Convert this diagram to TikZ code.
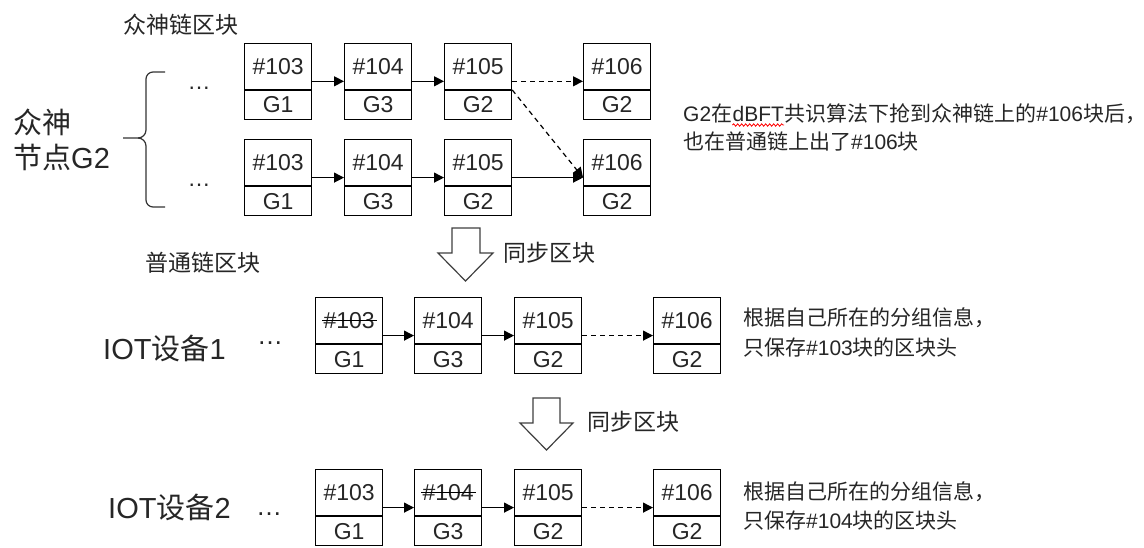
\documentclass[tikz,border=0pt]{standalone}
\usepackage{fontspec}
\setmainfont{Liberation Sans}
\newfontfamily\cjk{Noto Sans CJK SC}
\usetikzlibrary{arrows.meta,decorations.pathmorphing}
\newcommand\zh[1]{{\cjk #1}}
\newcommand\chainbox[5]{%
  \node[blocktop] (#1) at (#2,#3) {#4};
  \node[blockbot] (#1g) at (#1.south) {#5};}
\begin{document}
\begin{tikzpicture}[x=1pt,y=-1pt,
  txt/.style={text=black!85, inner sep=0pt},
  small/.style={txt, font=\fontsize{21}{25}\selectfont},
  label/.style={txt, font=\fontsize{23}{27}\selectfont},
  big/.style={txt, font=\fontsize{29}{34}\selectfont},
  boxfont/.style={font=\fontsize{23}{27}\selectfont},
  blocktop/.style={draw, line width=1.2pt, minimum width=67pt, minimum height=46pt,
     inner sep=0pt, boxfont, text=black!85, anchor=north west},
  blockbot/.style={draw, line width=1.2pt, minimum width=67pt, minimum height=29pt,
     inner sep=0pt, boxfont, text=black!85, anchor=north},
  link/.style={line width=1.2pt, -{Triangle[length=10pt,width=10pt]}},
  dlink/.style={link, dash pattern=on 5pt off 4pt},
  strike/.style={line width=1.3pt},
  fatarrow/.style={draw=black!75, line width=1.2pt, fill=white, line join=miter}
]
\useasboundingbox (0,0) rectangle (1144,547);
\fill[white] (0,0) rectangle (1144,547);

% titles
\node[label] (t1) at (181,25) {\zh{众神链区块}};
\node[label] (t2) at (203,263) {\zh{普通链区块}};

% left labels
\node[big, anchor=west] (g2a) at (13,122) {\zh{众神}};
\node[big, anchor=west] (g2b) at (13,157) {\zh{节点}G2};
\node[big, anchor=west] (iot1) at (103,348) {IOT\zh{设备}1};
\node[big, anchor=west] (iot2) at (108,507) {IOT\zh{设备}2};

% brace
\draw[line width=1.2pt, black!80] (165,72) -- (153,72) to[out=180,in=90] (146,79) -- (146,130)
  to[out=-90,in=0] (138,138) -- (123,138);
\draw[line width=1.2pt, black!80] (138,138) to[out=0,in=90] (146,146) -- (146,200)
  to[out=-90,in=180] (153,207) -- (165,207);

% dots
\node[txt, boxfont] (d1) at (199,88) {…};
\node[txt, boxfont] (d2) at (199,185) {…};
\node[txt, font=\fontsize{26}{30}\selectfont] (d3) at (270,343) {…};
\node[txt, font=\fontsize{26}{30}\selectfont] (d4) at (269,514) {…};

% row 1
\chainbox{a1}{244}{42.7}{\#103}{G1}
\chainbox{a2}{344}{42.7}{\#104}{G3}
\chainbox{a3}{444}{42.7}{\#105}{G2}
\chainbox{a4}{583}{42.7}{\#106}{G2}
% row 2
\chainbox{b1}{244}{139}{\#103}{G1}
\chainbox{b2}{344}{139}{\#104}{G3}
\chainbox{b3}{444}{139}{\#105}{G2}
\chainbox{b4}{583}{139}{\#106}{G2}
% row 3
\chainbox{c1}{315}{297}{}{G1}
\chainbox{c2}{414}{297}{\#104}{G3}
\chainbox{c3}{514}{297}{\#105}{G2}
\chainbox{c4}{653}{297}{\#106}{G2}
\node[txt, boxfont] (c1t) at (c1.center) {\#103};
\draw[strike] ([xshift=-1pt]c1t.west) -- ([xshift=2pt]c1t.east);
% row 4
\chainbox{e1}{315}{469}{\#103}{G1}
\chainbox{e2}{414}{469}{}{G3}
\chainbox{e3}{514}{469}{\#105}{G2}
\chainbox{e4}{653}{469}{\#106}{G2}
\node[txt, boxfont] (e2t) at (e2.center) {\#104};
\draw[strike] ([xshift=-1pt]e2t.west) -- ([xshift=2pt]e2t.east);

% connectors
\draw[link] ([yshift=-15pt]a1.east) -- ([yshift=-15pt]a2.west);
\draw[link] ([yshift=-15pt]a2.east) -- ([yshift=-15pt]a3.west);
\draw[dlink] ([yshift=-15pt]a3.east) -- ([yshift=-15pt]a4.west);
\draw[dlink] (a3.south east) -- ([yshift=-15pt]b4.west);
\draw[link] ([yshift=-15pt]b1.east) -- ([yshift=-15pt]b2.west);
\draw[link] ([yshift=-15pt]b2.east) -- ([yshift=-15pt]b3.west);
\draw[link] ([yshift=-15pt]b3.east) -- ([yshift=-15pt]b4.west);
\draw[link] ([yshift=-15pt]c1.east) -- ([yshift=-15pt]c2.west);
\draw[link] ([yshift=-15pt]c2.east) -- ([yshift=-15pt]c3.west);
\draw[dlink] ([yshift=-15pt]c3.east) -- ([yshift=-15pt]c4.west);
\draw[link] ([yshift=-15pt]e1.east) -- ([yshift=-15pt]e2.west);
\draw[link] ([yshift=-15pt]e2.east) -- ([yshift=-15pt]e3.west);
\draw[dlink] ([yshift=-15pt]e3.east) -- ([yshift=-15pt]e4.west);

% sync arrows
\draw[fatarrow] (452,228) -- (480,228) -- (480,253) -- (493,253) -- (465.5,281) -- (438,253) -- (452,253) -- cycle;
\node[label, anchor=west] (s1) at (503,253) {\zh{同步区块}};
\draw[fatarrow] (533,398) -- (560,398) -- (560,423) -- (573,423) -- (546.5,450) -- (520,423) -- (533,423) -- cycle;
\node[label, anchor=west] (s2) at (587,422) {\zh{同步区块}};

% notes
\node[small, anchor=west] (n1a) at (683,113) {G2\zh{在}};
\node[small, anchor=base west] (n1d) at (n1a.base east) {dBFT};
\node[small, anchor=base west] (n1e) at (n1d.base east) {\zh{共识算法下抢到众神链上的}\#106\zh{块后，}};
\draw[red, line width=0.8pt, decorate, decoration={snake, amplitude=1.2pt, segment length=4pt}]
  ([yshift=-4pt]n1d.base west) -- ([yshift=-4pt]n1d.base east);
\node[small, anchor=west] (n1b) at (683,142) {\zh{也在普通链上出了}\#106\zh{块}};
\node[small, anchor=west] (n3a) at (743,318) {\zh{根据自己所在的分组信息，}};
\node[small, anchor=west] (n3b) at (743,348) {\zh{只保存}\#103\zh{块的区块头}};
\node[small, anchor=west] (n4a) at (743,492) {\zh{根据自己所在的分组信息，}};
\node[small, anchor=west] (n4b) at (743,521) {\zh{只保存}\#104\zh{块的区块头}};
\end{tikzpicture}
\end{document}
